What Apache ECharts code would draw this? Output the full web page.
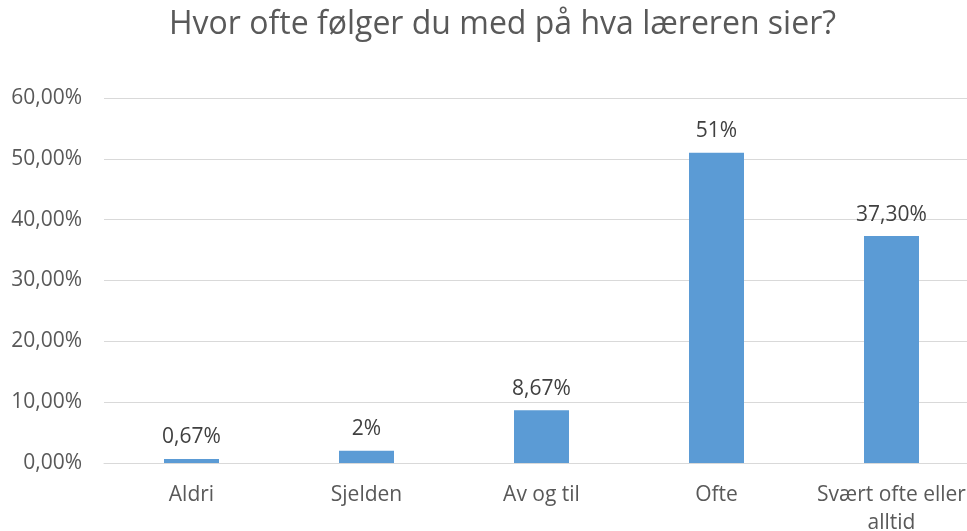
<!DOCTYPE html>
<html><head><meta charset="utf-8">
<script src="https://cdn.jsdelivr.net/npm/echarts@6/dist/echarts.min.js"></script>
<style>html,body{margin:0;padding:0;background:#fff}#c{width:967px;height:531px}</style>
</head><body><div id="c"></div>
<script>
const titleText = 'Hvor ofte følger du med på hva læreren sier?';
const categories = ['Aldri', 'Sjelden', 'Av og til', 'Ofte', 'Svært ofte eller\nalltid'];
const values = [0.67, 2, 8.67, 51, 37.3];
const valueLabels = ['0,67%', '2%', '8,67%', '51%', '37,30%'];
const yTicks = [0, 10, 20, 30, 40, 50, 60];

const font = '"Open Sans", "DejaVu Sans", sans-serif';
const chart = echarts.init(document.getElementById('c'));
chart.setOption({
  animation: false,
  backgroundColor: '#fff',
  title: {
    text: titleText, left: 164, top: 4,
    textStyle: {fontFamily: font, fontSize: 32, fontWeight: 'normal', color: '#595959'}
  },
  grid: {left: 104, width: 875, top: 98, bottom: 68, containLabel: false, outerBoundsMode: 'none'},
  xAxis: {
    type: 'category', data: categories,
    axisLine: {lineStyle: {color: '#D9D9D9', width: 1}},
    axisTick: {show: false},
    axisLabel: {fontFamily: font, fontSize: 21, color: '#595959', margin: 18, lineHeight: 28, interval: 0}
  },
  yAxis: {
    type: 'value', min: 0, max: 60, interval: 10,
    axisLine: {show: false}, axisTick: {show: false},
    splitLine: {lineStyle: {color: '#D9D9D9', width: 1}},
    axisLabel: {fontFamily: font, fontSize: 21, color: '#595959', margin: 22,
      formatter: v => yTicks.includes(v) ? v.toFixed(2).replace('.', ',') + '%' : ''}
  },
  series: [{
    type: 'bar', data: values, barWidth: 55,
    itemStyle: {color: '#5B9BD5'},
    label: {show: true, position: 'top', distance: 11, fontFamily: font, fontSize: 21, color: '#404040',
      formatter: p => valueLabels[p.dataIndex]}
  }]
});
</script></body></html>
